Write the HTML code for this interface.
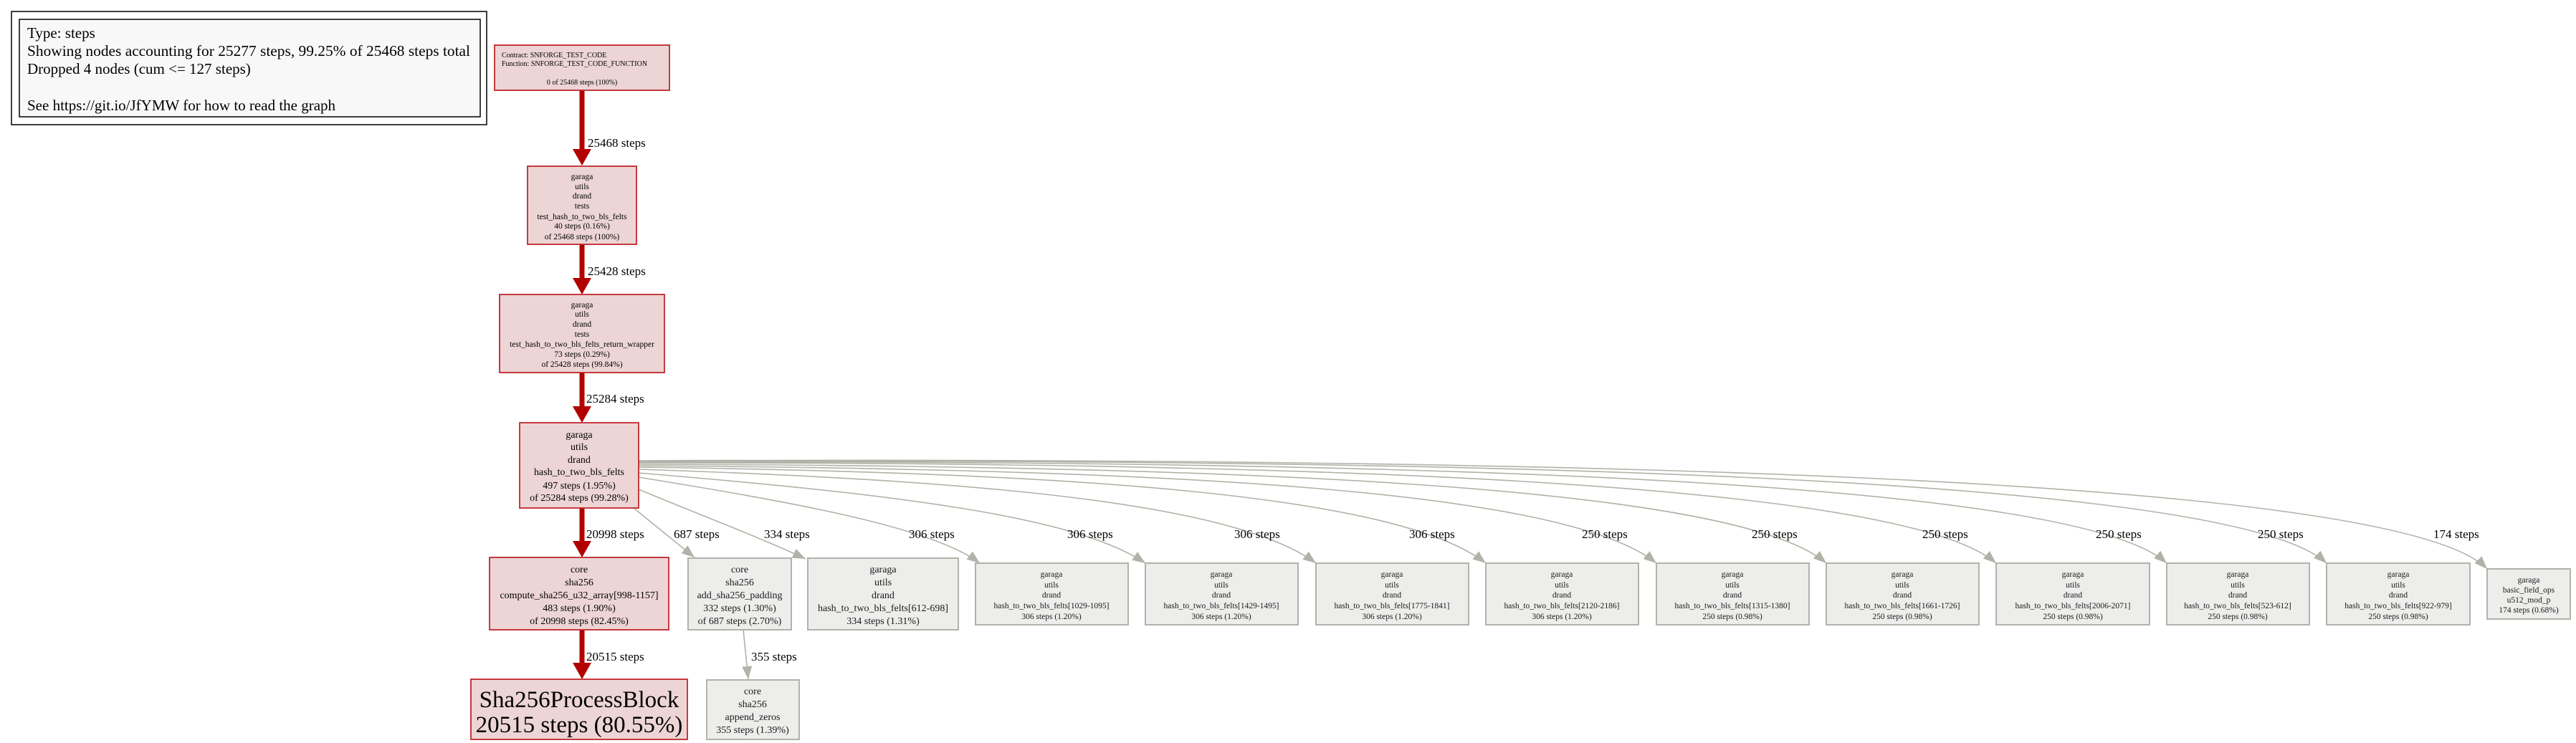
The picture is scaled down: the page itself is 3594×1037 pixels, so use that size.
<!DOCTYPE html>
<html><head><meta charset="utf-8"><style>
html,body{margin:0;padding:0;background:#fff;}
svg{display:block;}
text{font-family:"Liberation Serif",serif;}
</style></head><body>
<svg width="3594" height="1037" viewBox="0 0 3594 1037" xmlns="http://www.w3.org/2000/svg">
<defs>
<marker id="ga" markerUnits="userSpaceOnUse" markerWidth="20" markerHeight="16" refX="18" refY="7" orient="auto"><path d="M0,0 L18,7 L0,14 Z" fill="#b2b2a8"/></marker>
</defs>
<rect x="0" y="0" width="3594" height="1037" fill="#fff"/>
<!-- legend -->
<rect x="16" y="16" width="663" height="158" fill="#fff" stroke="#000" stroke-width="1.5"/>
<rect x="27" y="27" width="643" height="136" fill="#f8f8f8" stroke="#000" stroke-width="1.5"/>
<g font-size="21" fill="#000">
<text x="38" y="53">Type: steps</text>
<text x="38" y="78" textLength="618" lengthAdjust="spacingAndGlyphs">Showing nodes accounting for 25277 steps, 99.25% of 25468 steps total</text>
<text x="38" y="103">Dropped 4 nodes (cum &lt;= 127 steps)</text>
<text x="38" y="154">See https://git.io/JfYMW for how to read the graph</text>
</g>
<g transform="translate(-4,0)">
<!-- red edges -->
<g stroke="#b20000" stroke-width="7" fill="none">
<line x1="816" y1="126" x2="816" y2="210"/>
<line x1="816" y1="341" x2="816" y2="392"/>
<line x1="816" y1="520" x2="816" y2="570"/>
<line x1="816" y1="709" x2="816" y2="758"/>
<line x1="816" y1="879" x2="816" y2="930"/>
</g>
<g fill="#b20000">
<path d="M803,208 L829,208 L816,231 Z"/>
<path d="M803,388 L829,388 L816,411 Z"/>
<path d="M803,567 L829,567 L816,590 Z"/>
<path d="M803,755 L829,755 L816,778 Z"/>
<path d="M803,925 L829,925 L816,948 Z"/>
</g>
<g font-size="17" fill="#000">
<text x="824" y="205">25468 steps</text>
<text x="824" y="384">25428 steps</text>
<text x="822" y="562">25284 steps</text>
<text x="822" y="751">20998 steps</text>
<text x="822" y="922">20515 steps</text>
</g>
</g>
<!-- gray edges -->
<g stroke="#b2b2a8" stroke-width="1.6" fill="none" marker-end="url(#ga)">
<path d="M884,709 L969,778"/>
<path d="M891,683 C980,720 1060,750 1124,780"/>
<path d="M891,666 C1100,700 1300,735 1367,786"/>
<path d="M891,660 C1250,690 1500,720 1598,786"/>
<path d="M891,655 C1350,670 1720,700 1836,786"/>
<path d="M891,652 C1500,660 1950,690 2073,786"/>
<path d="M891,650 C1600,655 2180,680 2311,786"/>
<path d="M891,648 C1700,650 2420,675 2548,786"/>
<path d="M891,646 C1800,645 2650,670 2785,786"/>
<path d="M891,645 C1900,642 2890,665 3023,786"/>
<path d="M891,644 C2000,640 3110,660 3246,786"/>
<path d="M891,643 C2100,638 3340,660 3470,794"/>
<path d="M1037,879 L1044,948"/>
</g>
<g font-size="17" fill="#000">
<text x="940" y="751">687 steps</text>
<text x="1066" y="751">334 steps</text>
<text x="1268" y="751">306 steps</text>
<text x="1489" y="751">306 steps</text>
<text x="1722" y="751">306 steps</text>
<text x="1966" y="751">306 steps</text>
<text x="2207" y="751">250 steps</text>
<text x="2444" y="751">250 steps</text>
<text x="2682" y="751">250 steps</text>
<text x="2924" y="751">250 steps</text>
<text x="3150" y="751">250 steps</text>
<text x="3395" y="751">174 steps</text>
<text x="1048" y="922">355 steps</text>
</g>
<g transform="translate(-4,0)">
<!-- red nodes -->
<g fill="#edd5d5" stroke="#c0272d" stroke-width="1.8">
<rect x="694" y="63" width="244" height="63"/>
<rect x="740" y="232" width="152" height="109"/>
<rect x="701" y="411" width="230" height="109"/>
<rect x="729" y="590" width="166" height="119"/>
<rect x="687" y="778" width="250" height="101"/>
<rect x="661" y="948" width="302" height="84"/>
</g>
<g fill="#000" text-anchor="middle">
<g font-size="10">
<text x="704" y="80" text-anchor="start">Contract: SNFORGE_TEST_CODE</text>
<text x="704" y="92" text-anchor="start">Function: SNFORGE_TEST_CODE_FUNCTION</text>
<text x="816" y="118">0 of 25468 steps (100%)</text>
</g>
<g font-size="11.5">
<text x="816" y="250">garaga</text><text x="816" y="264">utils</text><text x="816" y="277">drand</text><text x="816" y="291">tests</text><text x="816" y="306">test_hash_to_two_bls_felts</text><text x="816" y="319">40 steps (0.16%)</text><text x="816" y="334">of 25468 steps (100%)</text>
<text x="816" y="429">garaga</text><text x="816" y="442">utils</text><text x="816" y="456">drand</text><text x="816" y="470">tests</text><text x="816" y="484">test_hash_to_two_bls_felts_return_wrapper</text><text x="816" y="498">73 steps (0.29%)</text><text x="816" y="512">of 25428 steps (99.84%)</text>
</g>
<g font-size="14">
<text x="812" y="611">garaga</text><text x="812" y="628">utils</text><text x="812" y="646">drand</text><text x="812" y="663">hash_to_two_bls_felts</text><text x="812" y="682">497 steps (1.95%)</text><text x="812" y="699">of 25284 steps (99.28%)</text>
<text x="812" y="799">core</text><text x="812" y="817">sha256</text><text x="812" y="835">compute_sha256_u32_array[998-1157]</text><text x="812" y="853">483 steps (1.90%)</text><text x="812" y="871">of 20998 steps (82.45%)</text>
</g>
<text x="812" y="987" font-size="33">Sha256ProcessBlock</text>
<text x="812" y="1022" font-size="33">20515 steps (80.55%)</text>
</g>
</g>
<!-- gray nodes -->
<g fill="#ededec" stroke="#b2b2ab" stroke-width="2">
<rect x="960" y="779" width="144" height="100"/>
<rect x="986" y="949" width="129" height="83"/>
<rect x="1127" y="779" width="210" height="100"/>
<rect x="1361" y="786" width="213" height="86"/>
<rect x="1598" y="786" width="213" height="86"/>
<rect x="1836" y="786" width="213" height="86"/>
<rect x="2073" y="786" width="213" height="86"/>
<rect x="2311" y="786" width="213" height="86"/>
<rect x="2548" y="786" width="213" height="86"/>
<rect x="2785" y="786" width="214" height="86"/>
<rect x="3023" y="786" width="199" height="86"/>
<rect x="3246" y="786" width="200" height="86"/>
<rect x="3470" y="794" width="116" height="70"/>
</g>
<g fill="#1a1a1a" text-anchor="middle">
<g font-size="14">
<text x="1032" y="799">core</text><text x="1032" y="817">sha256</text><text x="1032" y="835">add_sha256_padding</text><text x="1032" y="853">332 steps (1.30%)</text><text x="1032" y="871">of 687 steps (2.70%)</text>
<text x="1050" y="969">core</text><text x="1050" y="987">sha256</text><text x="1050" y="1005">append_zeros</text><text x="1050" y="1023">355 steps (1.39%)</text>
<text x="1232" y="799">garaga</text><text x="1232" y="817">utils</text><text x="1232" y="835">drand</text><text x="1232" y="853">hash_to_two_bls_felts[612-698]</text><text x="1232" y="871">334 steps (1.31%)</text>
</g>
<g font-size="11.5">
<text x="1467" y="805">garaga</text><text x="1467" y="820">utils</text><text x="1467" y="834">drand</text><text x="1467" y="849">hash_to_two_bls_felts[1029-1095]</text><text x="1467" y="864">306 steps (1.20%)</text>
<text x="1704" y="805">garaga</text><text x="1704" y="820">utils</text><text x="1704" y="834">drand</text><text x="1704" y="849">hash_to_two_bls_felts[1429-1495]</text><text x="1704" y="864">306 steps (1.20%)</text>
<text x="1942" y="805">garaga</text><text x="1942" y="820">utils</text><text x="1942" y="834">drand</text><text x="1942" y="849">hash_to_two_bls_felts[1775-1841]</text><text x="1942" y="864">306 steps (1.20%)</text>
<text x="2179" y="805">garaga</text><text x="2179" y="820">utils</text><text x="2179" y="834">drand</text><text x="2179" y="849">hash_to_two_bls_felts[2120-2186]</text><text x="2179" y="864">306 steps (1.20%)</text>
<text x="2417" y="805">garaga</text><text x="2417" y="820">utils</text><text x="2417" y="834">drand</text><text x="2417" y="849">hash_to_two_bls_felts[1315-1380]</text><text x="2417" y="864">250 steps (0.98%)</text>
<text x="2654" y="805">garaga</text><text x="2654" y="820">utils</text><text x="2654" y="834">drand</text><text x="2654" y="849">hash_to_two_bls_felts[1661-1726]</text><text x="2654" y="864">250 steps (0.98%)</text>
<text x="2892" y="805">garaga</text><text x="2892" y="820">utils</text><text x="2892" y="834">drand</text><text x="2892" y="849">hash_to_two_bls_felts[2006-2071]</text><text x="2892" y="864">250 steps (0.98%)</text>
<text x="3122" y="805">garaga</text><text x="3122" y="820">utils</text><text x="3122" y="834">drand</text><text x="3122" y="849">hash_to_two_bls_felts[523-612]</text><text x="3122" y="864">250 steps (0.98%)</text>
<text x="3346" y="805">garaga</text><text x="3346" y="820">utils</text><text x="3346" y="834">drand</text><text x="3346" y="849">hash_to_two_bls_felts[922-979]</text><text x="3346" y="864">250 steps (0.98%)</text>
<text x="3528" y="813">garaga</text><text x="3528" y="827">basic_field_ops</text><text x="3528" y="841">u512_mod_p</text><text x="3528" y="855">174 steps (0.68%)</text>
</g>
</g>
</svg>
</body></html>
